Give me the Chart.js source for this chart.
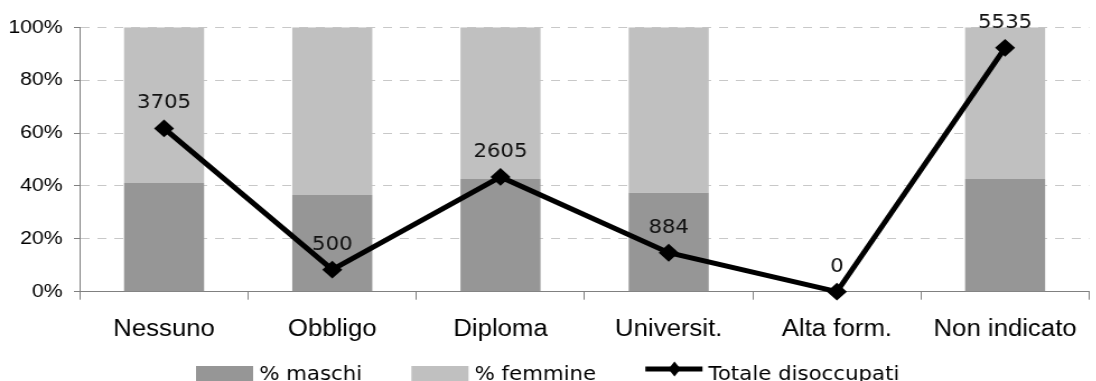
<!DOCTYPE html>
<html>
<head>
<meta charset="utf-8">
<script src="https://cdn.jsdelivr.net/npm/chart.js@4.4.0/dist/chart.umd.min.js"></script>
<style>
  html, body { margin: 0; padding: 0; width: 1096px; height: 381px; overflow: hidden; background: #fff; }
  /* the original picture is a little wider than tall fonts would give, so stretch horizontally */
  #wrap { position: absolute; left: 0; top: 0; width: 982px; height: 381px; transform: scaleX(1.12); transform-origin: 0 0; }
</style>
</head>
<body>
<div id="wrap"><canvas id="chart"></canvas></div>
<script>
const categories = ['Nessuno', 'Obbligo', 'Diploma', 'Universit.', 'Alta form.', 'Non indicato'];
const pctMaschi = [41.1, 36.6, 42.6, 37.4, 0, 42.6];
const pctFemmine = [58.9, 63.4, 57.4, 62.6, 0, 57.4];
const totaleDisoccupati = [3705, 500, 2605, 884, 0, 5535];
const yTickValues = [0, 20, 40, 60, 80, 100];

const AXIS_GRAY = '#808080';
const GRID_GRAY = '#c8c8c8';
const LABEL_FONT = '"Liberation Sans", Arial, sans-serif';
const VERDANA_LIKE = '"DejaVu Sans", Verdana, sans-serif';

const ctx = document.getElementById('chart').getContext('2d');

// value labels above the line points
const pointLabels = {
  id: 'pointLabels',
  afterDatasetsDraw(chart) {
    const c = chart.ctx;
    const meta = chart.getDatasetMeta(2);
    c.save();
    c.font = '19px ' + VERDANA_LIKE;
    c.fillStyle = '#111';
    c.textAlign = 'center';
    c.textBaseline = 'middle';
    meta.data.forEach((pt, i) => {
      c.fillText(String(totaleDisoccupati[i]), pt.x, pt.y - 25);
    });
    c.restore();
  }
};

// legend drawn in a row at the bottom edge, like the excel one
const bottomLegend = {
  id: 'bottomLegend',
  afterDraw(chart) {
    const c = chart.ctx;
    const symW = 51, gap = 5.4, itemGap = 44;
    let x = 175;
    c.save();
    c.font = '19px ' + VERDANA_LIKE;
    c.textBaseline = 'alphabetic';
    c.fillStyle = '#000';
    chart.data.datasets.forEach(ds => {
      if (ds.type === 'line') {
        c.strokeStyle = ds.borderColor;
        c.lineWidth = 5;
        c.beginPath();
        c.moveTo(x, 369);
        c.lineTo(x + symW, 369);
        c.stroke();
        const cx = x + 26;
        c.fillStyle = ds.borderColor;
        c.beginPath();
        c.moveTo(cx - 5.5, 369);
        c.lineTo(cx, 361.5);
        c.lineTo(cx + 5.5, 369);
        c.lineTo(cx, 376.5);
        c.closePath();
        c.fill();
      } else {
        c.fillStyle = ds.backgroundColor;
        c.fillRect(x, 366, symW, 15);
      }
      x += symW + gap;
      c.fillStyle = '#000';
      c.fillText(ds.label, x, 379.5);
      x += c.measureText(ds.label).width + itemGap;
    });
    c.restore();
  }
};

new Chart(ctx, {
  type: 'bar',
  data: {
    labels: categories,
    datasets: [
      {
        label: '% maschi',
        data: pctMaschi,
        backgroundColor: '#969696',
        borderWidth: 0,
        order: 1,
        barPercentage: 0.476,
        categoryPercentage: 1.0
      },
      {
        label: '% femmine',
        data: pctFemmine,
        backgroundColor: '#c0c0c0',
        borderWidth: 0,
        order: 1,
        barPercentage: 0.476,
        categoryPercentage: 1.0
      },
      {
        type: 'line',
        label: 'Totale disoccupati',
        data: totaleDisoccupati,
        yAxisID: 'y1',
        order: 0,
        borderColor: '#000',
        borderWidth: 5,
        tension: 0,
        fill: false,
        clip: false,
        pointStyle: 'rectRot',
        pointRadius: 7.5,
        pointBackgroundColor: '#000',
        pointBorderColor: '#000',
        pointBorderWidth: 2
      }
    ]
  },
  options: {
    responsive: true,
    maintainAspectRatio: false,
    animation: false,
    layout: { padding: { top: 27.3, left: 0, right: 0, bottom: 0 } },
    plugins: {
      legend: { display: false },
      tooltip: { enabled: false }
    },
    scales: {
      x: {
        stacked: true,
        offset: true,
        grid: {
          display: true,
          offset: true,
          drawOnChartArea: false,
          drawTicks: true,
          tickLength: 8,
          tickColor: AXIS_GRAY
        },
        border: { display: true, color: AXIS_GRAY, width: 1 },
        ticks: {
          color: '#000',
          font: { family: LABEL_FONT, size: 23 },
          padding: 16,
          maxRotation: 0,
          autoSkip: false
        },
        afterFit: scale => { scale.height = 381 - 291.7; }
      },
      y: {
        stacked: true,
        min: 0,
        max: 100,
        afterBuildTicks: scale => { scale.ticks = yTickValues.map(v => ({ value: v })); },
        ticks: {
          color: '#000',
          font: { family: LABEL_FONT, size: 19 },
          padding: 10,
          callback: v => v + '%'
        },
        grid: {
          color: GRID_GRAY,
          lineWidth: 1,
          tickLength: 5.4,
          tickColor: AXIS_GRAY,
          tickBorderDash: []
        },
        border: { display: true, color: AXIS_GRAY, width: 1, dash: [8, 7] },
        afterFit: scale => { scale.width = 71.4; }
      },
      y1: {
        display: false,
        min: 0,
        max: 6000
      }
    }
  },
  plugins: [pointLabels, bottomLegend]
});
</script>
</body>
</html>
